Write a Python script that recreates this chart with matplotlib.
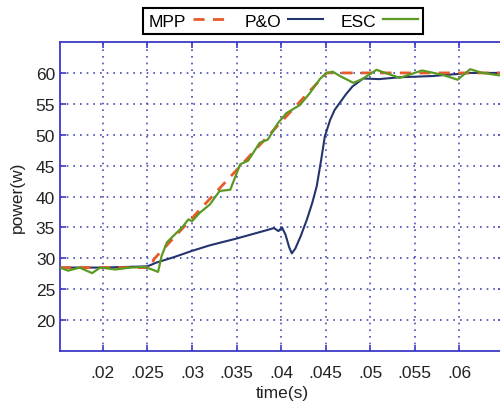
import matplotlib
matplotlib.use("Agg")
import matplotlib.pyplot as plt

plt.rcParams['font.family'] = ['Liberation Sans', 'DejaVu Sans']

# MPP (reference maximum power)
mpp_t = [0.0152, 0.0255, 0.0257, 0.0451, 0.0650]
mpp_p = [28.5, 28.5, 29.8, 60.0, 60.0]

# P&O
po_t = [0.0152, 0.0200, 0.0250, 0.0260, 0.0280, 0.0300, 0.0320, 0.0350, 0.0370,
        0.0385, 0.0392, 0.0397, 0.0401, 0.0405, 0.0409, 0.0412, 0.0416, 0.0422,
        0.0429, 0.0435, 0.0440, 0.0445, 0.0449, 0.0455, 0.0460, 0.0466, 0.0473,
        0.0480, 0.0492, 0.0510, 0.0533, 0.0570, 0.0612, 0.0650]
po_p = [28.5, 28.5, 28.7, 29.3, 30.2, 31.2, 32.1, 33.2, 34.0,
        34.6, 34.9, 34.4, 35.0, 33.8, 31.8, 30.8, 31.6, 33.6,
        36.3, 39.0, 41.7, 46.0, 49.7, 52.4, 54.0, 55.2, 56.6,
        57.8, 59.1, 59.0, 59.3, 59.5, 60.0, 60.0]

# ESC
esc_t = [0.0152, 0.0161, 0.0174, 0.0188, 0.0197, 0.0214, 0.0231, 0.0247, 0.0255,
         0.0262, 0.0266, 0.0272, 0.0279, 0.0289, 0.0296, 0.0300, 0.0309, 0.0320,
         0.0331, 0.0343, 0.0354, 0.0363, 0.0376, 0.0385, 0.0396, 0.0406, 0.0421,
         0.0432, 0.0444, 0.0451, 0.0458, 0.0466, 0.0481, 0.0491, 0.0507, 0.0533,
         0.0558, 0.0581, 0.0598, 0.0612, 0.0626, 0.0645]
esc_p = [28.5, 28.0, 28.5, 27.6, 28.5, 28.2, 28.5, 28.6, 28.2,
         27.8, 30.4, 32.6, 33.6, 35.0, 36.3, 36.0, 37.4, 38.7,
         40.9, 41.1, 45.2, 45.8, 48.7, 49.2, 51.8, 53.5, 54.8,
         56.7, 59.1, 60.0, 60.2, 59.5, 58.4, 59.0, 60.5, 59.2,
         60.4, 59.7, 58.9, 60.6, 60.0, 59.6]

xticks = [0.02, 0.025, 0.03, 0.035, 0.04, 0.045, 0.05, 0.055, 0.06]
xticklabels = ['.02', '.025', '.03', '.035', '.04', '.045', '.05', '.055', '.06']
yticks = [20, 25, 30, 35, 40, 45, 50, 55, 60]

fig = plt.figure(figsize=(5.0, 4.06), dpi=100)
ax = fig.add_axes([0.12, 0.133, 0.888, 0.761])

blue = '#3c3cc8'
l1, = ax.plot(mpp_t, mpp_p, color='#e85a2a', lw=2.0, ls=(0, (4, 3)), label='MPP', zorder=3)
l2, = ax.plot(po_t, po_p, color='#24346e', lw=1.5, label='P&O', zorder=2)
l3, = ax.plot(esc_t, esc_p, color='#5a9a22', lw=1.6, label='ESC', zorder=4)

ax.set_xlim(0.0152, 0.065)
ax.set_ylim(15, 65)
ax.set_xticks(xticks)
ax.set_xticklabels(xticklabels)
ax.set_yticks(yticks)
ax.tick_params(direction='in', top=True, right=True, colors=blue, labelcolor='#222222',
               labelsize=12.5, length=4, width=1.2)
ax.tick_params(axis='x', pad=10)
for s in ax.spines.values():
    s.set_color(blue)
    s.set_linewidth(1.3)
ax.grid(True, ls=(0, (1, 3)), color='#4848b8', lw=1.2)
ax.set_axisbelow(True)

ax.set_xlabel('time(s)', fontsize=12.5, color='#222222', labelpad=4)
ax.set_ylabel('power(w)', fontsize=12.5, color='#222222', labelpad=8)

leg = fig.legend(handles=[l1, l2, l3], loc='center', bbox_to_anchor=(0.566, 0.946),
                 ncol=3, markerfirst=False, fancybox=False, framealpha=1,
                 edgecolor='black', fontsize=12.5, handlelength=2.0, columnspacing=1.0,
                 handletextpad=0.4, borderpad=0.3)
leg.get_frame().set_linewidth(1.5)

fig.savefig('out.png', dpi=100)
